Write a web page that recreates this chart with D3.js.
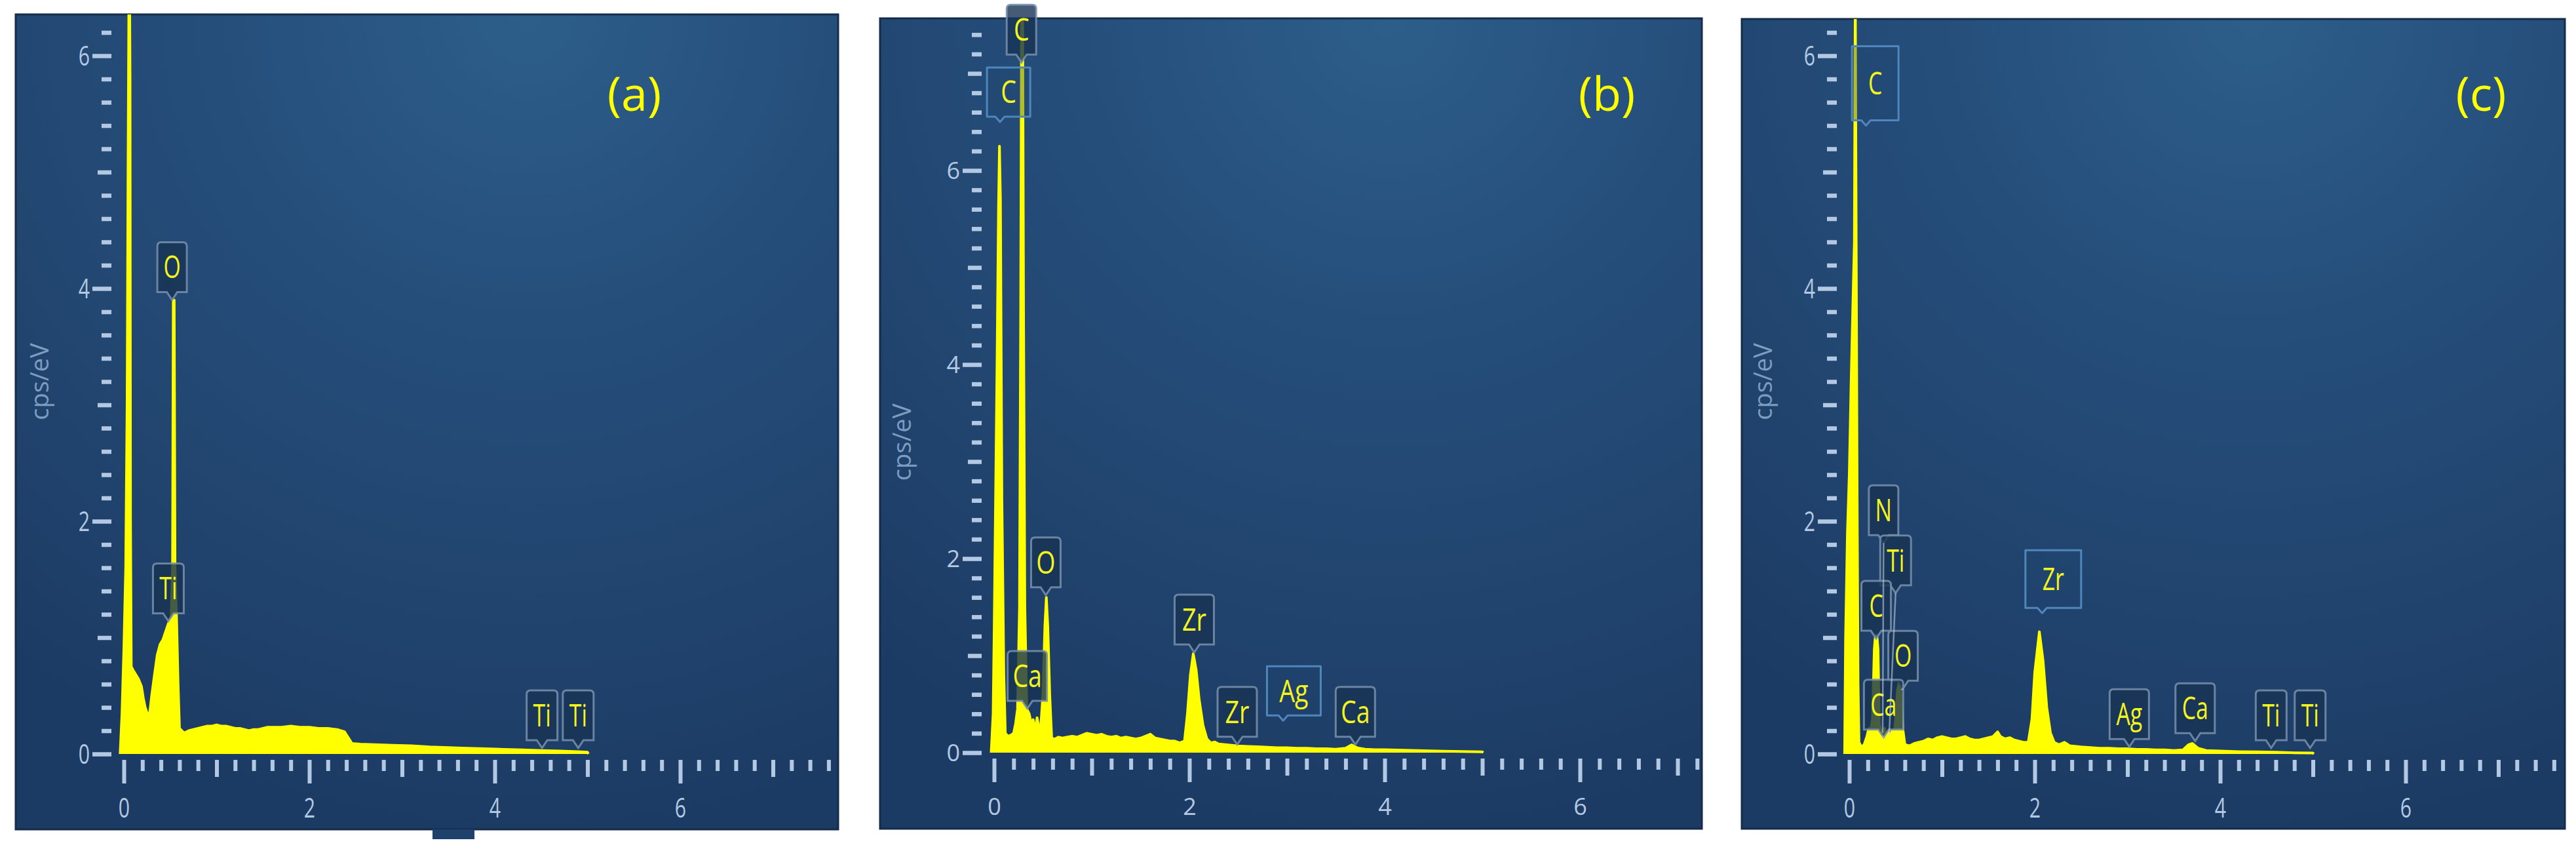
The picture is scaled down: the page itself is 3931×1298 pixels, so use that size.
<!DOCTYPE html>
<html><head><meta charset="utf-8">
<script src="https://cdn.jsdelivr.net/npm/d3@7/dist/d3.min.js"></script>
<style>html,body{margin:0;padding:0;background:#fff;}svg{display:block}</style>
</head><body>
<svg id="chart" width="3931" height="1298"></svg>
<script>
// ---------------- DATA ----------------
const panelTitles = ["(a)", "(b)", "(c)"];
const axisTitle = "cps/eV";
const xTickLabels = [0, 2, 4, 6];
const yTickLabels = [0, 2, 4, 6];

// energy (keV), intensity (cps/eV)
const spectrumA = [[-0.04,0],[-0.02,0.35],[0.0,0.9],[0.02,1.6],[0.035,3.0],[0.045,5.0],[0.05,5.8],[0.055,6.6],[0.062,6.6],[0.067,5.8],[0.072,2.0],[0.08,0.75],[0.1,0.72],[0.13,0.68],[0.16,0.64],[0.19,0.58],[0.21,0.48],[0.23,0.4],[0.26,0.33],[0.28,0.36],[0.3,0.5],[0.33,0.68],[0.36,0.85],[0.39,0.94],[0.42,0.98],[0.45,1.05],[0.48,1.12],[0.51,1.18],[0.525,1.6],[0.533,3.9],[0.543,3.9],[0.552,1.6],[0.57,1.12],[0.585,0.6],[0.6,0.22],[0.65,0.18],[0.7,0.2],[0.75,0.21],[0.8,0.22],[0.85,0.23],[0.9,0.24],[0.95,0.24],[1.0,0.25],[1.05,0.24],[1.1,0.24],[1.15,0.23],[1.2,0.22],[1.25,0.22],[1.3,0.21],[1.35,0.2],[1.4,0.21],[1.45,0.21],[1.5,0.22],[1.55,0.23],[1.6,0.23],[1.7,0.23],[1.8,0.24],[1.9,0.23],[2.0,0.23],[2.1,0.22],[2.2,0.22],[2.3,0.21],[2.38,0.19],[2.42,0.14],[2.46,0.09],[2.55,0.085],[2.7,0.08],[2.9,0.075],[3.1,0.07],[3.3,0.06],[3.5,0.055],[3.7,0.05],[3.9,0.045],[4.1,0.04],[4.3,0.035],[4.5,0.03],[4.7,0.025],[4.9,0.02],[5.0,0.015],[5.01,0]];

const spectrumB = [[-0.03,0],[-0.01,0.4],[0.0,1.2],[0.015,2.6],[0.03,4.0],[0.045,5.6],[0.055,6.25],[0.065,5.7],[0.08,2.6],[0.1,0.8],[0.115,0.2],[0.14,0.17],[0.17,0.18],[0.2,0.2],[0.22,0.3],[0.24,0.45],[0.26,1.5],[0.272,4.5],[0.282,7.9],[0.292,7.9],[0.302,4.5],[0.315,1.5],[0.335,0.45],[0.36,0.4],[0.38,0.3],[0.4,0.34],[0.42,0.22],[0.44,0.36],[0.46,0.25],[0.48,0.3],[0.5,0.6],[0.52,1.3],[0.535,1.6],[0.55,1.3],[0.57,0.6],[0.59,0.15],[0.62,0.14],[0.66,0.16],[0.7,0.15],[0.75,0.16],[0.8,0.17],[0.85,0.16],[0.9,0.18],[0.95,0.2],[1.0,0.19],[1.05,0.18],[1.1,0.19],[1.15,0.17],[1.2,0.16],[1.25,0.17],[1.3,0.15],[1.35,0.16],[1.4,0.15],[1.45,0.14],[1.5,0.15],[1.55,0.17],[1.6,0.19],[1.65,0.15],[1.7,0.14],[1.75,0.13],[1.8,0.12],[1.85,0.12],[1.9,0.1],[1.95,0.12],[1.98,0.4],[2.01,0.8],[2.04,1.02],[2.07,0.85],[2.1,0.55],[2.14,0.28],[2.18,0.14],[2.22,0.1],[2.26,0.11],[2.3,0.09],[2.4,0.08],[2.5,0.07],[2.6,0.065],[2.7,0.06],[2.8,0.055],[2.9,0.05],[3.0,0.05],[3.1,0.045],[3.2,0.045],[3.3,0.04],[3.4,0.04],[3.5,0.035],[3.6,0.045],[3.66,0.08],[3.72,0.05],[3.8,0.035],[3.9,0.03],[4.0,0.03],[4.2,0.025],[4.4,0.02],[4.6,0.015],[4.8,0.012],[5.0,0.008],[5.01,0]];

const spectrumC = [[-0.05,0],[-0.04,1.0],[-0.02,1.9],[0.0,2.4],[0.02,3.2],[0.04,3.9],[0.055,4.4],[0.065,6.6],[0.075,4.4],[0.085,2.2],[0.095,0.6],[0.105,0.1],[0.13,0.06],[0.16,0.08],[0.19,0.15],[0.21,0.22],[0.23,0.2],[0.25,0.3],[0.27,0.9],[0.28,1.0],[0.29,1.02],[0.3,1.0],[0.31,0.9],[0.325,0.25],[0.35,0.18],[0.38,0.22],[0.4,0.14],[0.42,0.2],[0.44,0.12],[0.46,0.2],[0.48,0.15],[0.5,0.3],[0.52,0.55],[0.54,0.62],[0.56,0.5],[0.58,0.2],[0.6,0.08],[0.65,0.07],[0.7,0.09],[0.75,0.1],[0.8,0.11],[0.85,0.13],[0.9,0.12],[0.95,0.14],[1.0,0.15],[1.05,0.14],[1.1,0.13],[1.15,0.13],[1.2,0.14],[1.25,0.15],[1.3,0.13],[1.35,0.12],[1.4,0.12],[1.45,0.13],[1.5,0.14],[1.55,0.15],[1.6,0.19],[1.63,0.15],[1.68,0.13],[1.73,0.14],[1.78,0.12],[1.83,0.11],[1.88,0.1],[1.93,0.1],[1.97,0.3],[2.0,0.7],[2.05,1.05],[2.09,0.8],[2.13,0.4],[2.17,0.18],[2.21,0.1],[2.26,0.08],[2.32,0.1],[2.38,0.07],[2.5,0.06],[2.6,0.055],[2.7,0.05],[2.8,0.05],[2.9,0.045],[3.0,0.045],[3.1,0.04],[3.2,0.04],[3.3,0.035],[3.4,0.035],[3.5,0.03],[3.6,0.035],[3.66,0.08],[3.7,0.09],[3.76,0.05],[3.85,0.03],[4.0,0.025],[4.2,0.02],[4.4,0.018],[4.6,0.015],[4.8,0.01],[5.0,0.008],[5.01,0]];

// peak markers: element, energy of pointer tip, intensity of pointer tip,
// optional box anchor (be, bv) when the box is displaced, sel = outlined style
const labelsA = [
  {el:"O", e:0.52, v:3.89},
  {el:"Ti", e:0.48, v:1.13},
  {el:"Ti", e:4.51, v:0.04},
  {el:"Ti", e:4.90, v:0.04}
];
const labelsB = [
  {el:"C", e:0.06, v:6.5, sel:true},
  {el:"C", e:0.28, v:7.1},
  {el:"Ca", e:0.34, v:0.44},
  {el:"O", e:0.53, v:1.61},
  {el:"Zr", e:2.05, v:1.02},
  {el:"Zr", e:2.49, v:0.07},
  {el:"Ag", e:2.96, v:0.33, sel:true},
  {el:"Ca", e:3.70, v:0.07}
];
const labelsC = [
  {el:"C", e:0.18, v:5.4, sel:true},
  {el:"N", e:0.36, v:0.18, be:0.37, bv:1.88},
  {el:"Ti", e:0.43, v:0.16, be:0.50, bv:1.45},
  {el:"C", e:0.29, v:0.98},
  {el:"O", e:0.56, v:0.55, be:0.58, bv:0.63},
  {el:"Ca", e:0.36, v:0.15, be:0.37, bv:0.21},
  {el:"Zr", e:2.08, v:1.21, sel:true},
  {el:"Ag", e:3.02, v:0.05},
  {el:"Ca", e:3.73, v:0.10},
  {el:"Ti", e:4.55, v:0.04},
  {el:"Ti", e:4.97, v:0.04}
];

// ---------------- LAYOUT ----------------
const layout = {
  a:{x:24,  y:22, w:1255, h:1243, x0:189,  y0:1150, kx:141.5, ky:177.5, tsx:0.72, tfs:42, lsx:0.72, ttlX:968,  ylabX:61},
  b:{x:1343,y:28, w:1254, h:1236, x0:1517, y0:1148, kx:149,   ky:148,   tsx:1.0, tfs:36, lsx:0.8, ttlX:2452, ylabX:1377},
  c:{x:2658,y:29, w:1256, h:1235, x0:2822, y0:1150, kx:141.5, ky:177.5, tsx:0.72, tfs:42, lsx:0.72, ttlX:3786, ylabX:2691}
};
const boxOverride = {"c0":{w:71,h:113}, "c6":{w:85,h:88}};
const panels = [
  {key:"a", title:panelTitles[0], spectrum:spectrumA, labels:labelsA},
  {key:"b", title:panelTitles[1], spectrum:spectrumB, labels:labelsB},
  {key:"c", title:panelTitles[2], spectrum:spectrumC, labels:labelsC}
];

const svg = d3.select("#chart");
const defs = svg.append("defs");
const FONT = "'Open Sans', 'DejaVu Sans', sans-serif";
const TICK = "#b3c8e2";
const YEL = "#ffff00";

panels.forEach(p => {
  const L = layout[p.key];
  const xMax = (L.x + L.w - L.x0) / L.kx;
  const yMax = (L.y0 - L.y) / L.ky;
  const x = d3.scaleLinear().domain([0, xMax]).range([L.x0, L.x + L.w]);
  const y = d3.scaleLinear().domain([0, yMax]).range([L.y0, L.y]);

  const gr = defs.append("radialGradient").attr("id", "bg-" + p.key)
    .attr("cx", 0.62).attr("cy", 0.0).attr("r", 1.0).attr("fx", 0.62).attr("fy", 0.0);
  [[0,"#2d5e8a"],[0.35,"#264f7c"],[0.7,"#21456f"],[1,"#1c3b64"]].forEach(s =>
    gr.append("stop").attr("offset", s[0]).attr("stop-color", s[1]));
  defs.append("clipPath").attr("id", "clip-" + p.key).append("rect")
    .attr("x", L.x).attr("y", L.y).attr("width", L.w).attr("height", L.h);

  const G = svg.append("g");
  G.append("rect").attr("x", L.x).attr("y", L.y).attr("width", L.w).attr("height", L.h)
    .attr("fill", `url(#bg-${p.key})`).attr("stroke", "#152d4b").attr("stroke-width", 3);

  const C = G.append("g").attr("clip-path", `url(#clip-${p.key})`);

  // ---- x ticks
  const xt = d3.range(0, Math.floor(xMax * 5) + 1).map(i => i / 5);
  const xMajor = xt.filter(v => Math.round(v * 5) % 10 === 0);
  const xMed = xt.filter(v => Math.round(v * 5) % 10 === 5);
  const xMin = xt.filter(v => Math.round(v * 5) % 5 !== 0);
  [[xMin, 17], [xMed, 26], [xMajor, 36]].forEach(([vals, len]) => {
    const ax = C.append("g").attr("transform", `translate(0,${L.y0 + 9})`)
      .call(d3.axisBottom(x).tickValues(vals).tickSize(len).tickFormat(""));
    ax.select(".domain").remove();
    ax.selectAll("line").attr("stroke", TICK).attr("stroke-width", 6);
  });
  const xl = C.append("g").attr("transform", `translate(0,${L.y0 + 9})`)
    .call(d3.axisBottom(x).tickValues(xTickLabels).tickSize(0).tickFormat(d3.format("d")));
  xl.select(".domain").remove();
  xl.selectAll("text").attr("y", 0).attr("dy", "0.35em")
    .attr("transform", `translate(0,73) scale(${L.tsx},1)`)
    .attr("fill", TICK).attr("font-size", L.tfs).attr("font-family", FONT);

  // ---- y ticks
  const yt = d3.range(0, Math.floor(yMax * 5) + 1).map(i => i / 5).filter(v => y(v) > L.y + 4);
  const yMajor = yt.filter(v => Math.round(v * 5) % 10 === 0);
  const yMed = yt.filter(v => Math.round(v * 5) % 10 === 5);
  const yMin = yt.filter(v => Math.round(v * 5) % 5 !== 0);
  [[yMin, 15], [yMed, 21], [yMajor, 29]].forEach(([vals, len]) => {
    const ax = C.append("g").attr("transform", `translate(${L.x0 - 19},0)`)
      .call(d3.axisLeft(y).tickValues(vals).tickSize(len).tickFormat(""));
    ax.select(".domain").remove();
    ax.selectAll("line").attr("stroke", TICK).attr("stroke-width", 6.5);
  });
  const yl = C.append("g").attr("transform", `translate(${L.x0 - 19},0)`)
    .call(d3.axisLeft(y).tickValues(yTickLabels).tickSize(0).tickFormat(d3.format("d")));
  yl.select(".domain").remove();
  yl.selectAll("text").attr("x", 0).attr("dy", "0.35em").attr("text-anchor", "end")
    .attr("transform", `translate(-33,0) scale(${L.tsx},1)`)
    .attr("fill", TICK).attr("font-size", L.tfs).attr("font-family", FONT);

  // axis title
  G.append("text").attr("transform", `translate(${L.ylabX},${L.y0 - 3.2 * L.ky}) rotate(-90)`)
    .attr("text-anchor", "middle").attr("dy", "0.35em")
    .attr("fill", "#7c9cc0").attr("font-size", 38).attr("font-family", FONT).text(axisTitle);

  // ---- spectrum
  const area = d3.area().x(d => x(d[0])).y0(y(0)).y1(d => y(d[1]));
  const line = d3.line().x(d => x(d[0])).y(d => y(d[1]));
  C.append("path").datum(p.spectrum).attr("d", area).attr("fill", YEL);
  C.append("path").datum(p.spectrum).attr("d", line).attr("fill", "none")
    .attr("stroke", YEL).attr("stroke-width", 4).attr("stroke-linejoin", "round");

  // ---- peak labels
  const LG = G.append("g");
  const leaders = [];
  p.labels.forEach((lb, i) => {
    const tx = x(lb.e), ty = y(lb.v);
    const n = lb.el.length;
    const ov = boxOverride[p.key + i];
    const g = LG.append("g");
    let cx, cy;
    if (lb.sel) {
      const w = ov ? ov.w : (n === 1 ? 66 : 82), h = ov ? ov.h : 75;
      const left = tx - 0.3 * w, bot = ty - 8, top = bot - h;
      const path = `M${left},${top}H${left + w}V${bot}H${tx + 7}L${tx},${ty}L${tx - 7},${bot}H${left}Z`;
      g.append("path").attr("d", path).attr("fill", "#1f4670").attr("fill-opacity", 0.35)
        .attr("stroke", "#4f87bd").attr("stroke-width", 3).attr("stroke-linejoin", "round");
      cx = left + w / 2; cy = top + Math.min(h / 2, 58);
    } else {
      const w = n === 1 ? 45 : (lb.el === "Ti" ? 47 : 60), h = 76;
      const bx = lb.be != null ? x(lb.be) : tx;
      const bot = lb.bv != null ? y(lb.bv) : ty - 14;
      const top = bot - h, r = 6, l = bx - w / 2, rr = bx + w / 2;
      const path = `M${l + r},${top}H${rr - r}Q${rr},${top} ${rr},${top + r}V${bot}H${bx + 8}L${bx},${bot + 12}L${bx - 8},${bot}H${l}V${top + r}Q${l},${top} ${l + r},${top}Z`;
      g.append("path").attr("d", path).attr("fill", "#183354").attr("fill-opacity", 0.8)
        .attr("stroke", "#7890ad").attr("stroke-width", 3).attr("stroke-opacity", 0.85);
      if (lb.be != null || lb.bv != null) leaders.push([bx, bot + 12, tx, ty]);
      cx = bx; cy = top + h / 2;
    }
    g.append("text").attr("transform", `translate(${cx},${cy}) scale(${L.lsx},1)`)
      .attr("text-anchor", "middle").attr("dy", "0.36em")
      .attr("fill", "#f5f51e").attr("font-size", 47).attr("font-family", FONT).text(lb.el);
  });
  leaders.forEach(d => LG.append("line").attr("x1", d[0]).attr("y1", d[1]).attr("x2", d[2]).attr("y2", d[3])
    .attr("stroke", "#c9d6e6").attr("stroke-opacity", 0.55).attr("stroke-width", 2.5));

  // panel title
  G.append("text").attr("x", L.ttlX).attr("y", 144).attr("dy", "0.35em").attr("text-anchor", "middle")
    .attr("fill", YEL).attr("font-size", 72).attr("font-family", FONT).text(p.title);
});

// small tab under panel (a)
svg.append("rect").attr("x", 660).attr("y", 1265).attr("width", 64).attr("height", 15).attr("fill", "#1f426d");
</script>
</body></html>
